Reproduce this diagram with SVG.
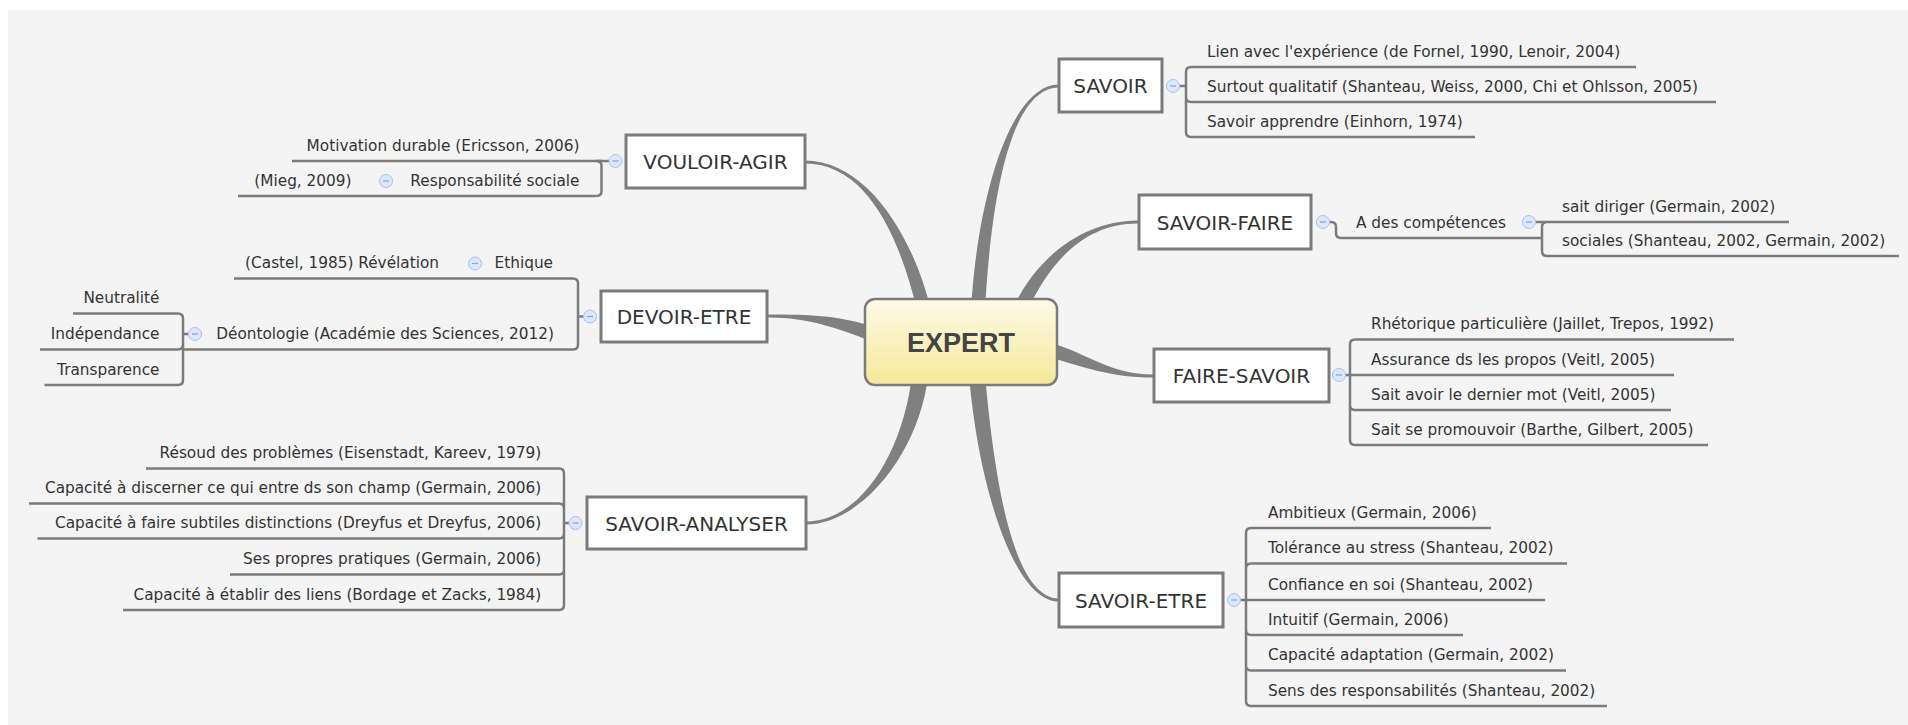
<svg xmlns="http://www.w3.org/2000/svg" width="1908" height="725" viewBox="0 0 1908 725">
<defs>
<linearGradient id="gExp" x1="0" y1="0" x2="0" y2="1">
<stop offset="0" stop-color="#fdfae8"/>
<stop offset="1" stop-color="#f6e898"/>
</linearGradient>
<style>
.conn{fill:#808080;stroke:none}
.br{fill:none;stroke:#7b7b7b;stroke-width:2.5}
.ul{fill:none;stroke:#7b7b7b;stroke-width:2.5}
.box{fill:#ffffff;stroke:#7b7b7b;stroke-width:3}
.lbl{font-family:"DejaVu Sans",sans-serif;font-size:20px;fill:#333333;text-anchor:middle}
.t{font-family:"DejaVu Sans",sans-serif;font-size:15.3px;fill:#333333}
.te{font-family:"DejaVu Sans",sans-serif;font-size:15.3px;fill:#333333;text-anchor:end}
.cc{fill:#dce7fb;stroke:#a8c2ef;stroke-width:1}
.cm{stroke:#86a4da;stroke-width:1.2}
</style>
</defs>
<rect x="0" y="0" width="1908" height="725" fill="#ffffff"/>
<rect x="8" y="10" width="1900" height="715" fill="#f4f4f4"/>

<g id="connectors">
<path class="conn" d="M 917,310 C 899,235 866,163.5 805,163.5 L 805,160.5 C 866,160.5 913,235 931,310 Z"/>
<path class="conn" d="M 971,310 C 977,200 1010,84.5 1059,84.5 L 1059,87.5 C 1010,87.5 991,200 985,310 Z"/>
<path class="conn" d="M 1013.6,307.1 C 1035.6,259.1 1082,220.5 1138,220.5 L 1138,223.5 C 1082,223.5 1048.4,264.9 1026.4,312.9 Z"/>
<path class="conn" d="M 872.6,341.6 C 837.6,328.6 810,317.5 768,317.5 L 768,314.5 C 810,314.5 842.4,315.4 877.4,328.4 Z"/>
<path class="conn" d="M 1051.9,343.3 C 1086.9,353.3 1110,374.5 1153,374.5 L 1153,377.5 C 1110,377.5 1083.1,366.7 1048.1,356.7 Z"/>
<path class="conn" d="M 928,375.85 C 920,450.85 862,524.5 806,524.5 L 806,521.5 C 862,521.5 904,449.15 912,374.15 Z"/>
<path class="conn" d="M 985,374.3 C 995,489.3 1015,598.5 1059,598.5 L 1059,601.5 C 1015,601.5 979,490.7 969,375.7 Z"/>

<path class="br" d="M 1179.5,86 H 1186 M 1186,86 V 72 Q 1186,67 1191,67 M 1186,86 V 97 Q 1186,102 1191,102 M 1186,86 V 132 Q 1186,137 1191,137"/>
<path class="br" d="M 1329.5,222 H 1331 Q 1336,222 1336,227 V 233 Q 1336,238 1341,238"/>
<path class="br" d="M 1535.5,222 H 1547 M 1542,238 V 227 Q 1542,222 1547,222 M 1542,238 V 251 Q 1542,256 1547,256"/>
<path class="br" d="M 1345.5,375 H 1350 M 1350,375 V 344.5 Q 1350,339.5 1355,339.5 M 1350,375 V 405 Q 1350,410 1355,410 M 1350,375 V 440 Q 1350,445 1355,445"/>
<path class="br" d="M 1240.5,600 H 1246 M 1246,600 V 533 Q 1246,528 1251,528 M 1246,600 V 568.5 Q 1246,563.5 1251,563.5 M 1246,600 V 630 Q 1246,635 1251,635 M 1246,600 V 665.5 Q 1246,670.5 1251,670.5 M 1246,600 V 701 Q 1246,706 1251,706"/>
<path class="br" d="M 609,161 H 596.5 Q 601.5,161 601.5,166 V 191 Q 601.5,196 596.5,196"/>
<path class="br" d="M 583.5,316.5 H 578 M 578,316.5 V 283.5 Q 578,278.5 573,278.5 M 578,316.5 V 344.5 Q 578,349.5 573,349.5"/>
<path class="br" d="M 189,334 H 183 M 183,334 V 318.5 Q 183,313.5 178,313.5 M 183,334 V 344.5 Q 183,349.5 178,349.5 M 183,334 V 380 Q 183,385 178,385"/>
<path class="br" d="M 569,523 H 564 M 564,523 V 473.5 Q 564,468.5 559,468.5 M 564,523 V 508.5 Q 564,503.5 559,503.5 M 564,523 V 533.5 Q 564,538.5 559,538.5 M 564,523 V 569.5 Q 564,574.5 559,574.5 M 564,523 V 605 Q 564,610 559,610"/>
</g>

<g id="markers">
<circle class="cc" cx="1173" cy="86" r="6.5"/><path class="cm" d="M 1170,86 H 1176"/>
<circle class="cc" cx="1323" cy="222" r="6.5"/><path class="cm" d="M 1320,222 H 1326"/>
<circle class="cc" cx="1529" cy="222" r="6.5"/><path class="cm" d="M 1526,222 H 1532"/>
<circle class="cc" cx="1339" cy="375" r="6.5"/><path class="cm" d="M 1336,375 H 1342"/>
<circle class="cc" cx="1234" cy="600" r="6.5"/><path class="cm" d="M 1231,600 H 1237"/>
<circle class="cc" cx="615.5" cy="161" r="6.5"/><path class="cm" d="M 612.5,161 H 618.5"/>
<circle class="cc" cx="386" cy="181" r="6.5"/><path class="cm" d="M 383,181 H 389"/>
<circle class="cc" cx="590" cy="316.5" r="6.5"/><path class="cm" d="M 587,316.5 H 593"/>
<circle class="cc" cx="475" cy="263.5" r="6.5"/><path class="cm" d="M 472,263.5 H 478"/>
<circle class="cc" cx="195" cy="334" r="6.5"/><path class="cm" d="M 192,334 H 198"/>
<circle class="cc" cx="575.5" cy="523" r="6.5"/><path class="cm" d="M 572.5,523 H 578.5"/>
</g>

<g id="expert">
<rect x="865" y="299" width="192" height="86" rx="10" ry="10" fill="url(#gExp)" stroke="#7b7b7b" stroke-width="2.5"/>
<text x="961" y="352" font-family="'Liberation Sans',Arial,sans-serif" font-weight="bold" font-size="27" fill="#444444" text-anchor="middle">EXPERT</text>
</g>

<g id="savoir">
<rect class="box" x="1059" y="59" width="103" height="53"/>
<text class="lbl" x="1110.5" y="93">SAVOIR</text>
</g>
<g id="savoir-1"><path class="ul" d="M 1191,67 H 1636"/><text class="t" x="1207" y="56.5">Lien avec l'expérience (de Fornel, 1990, Lenoir, 2004)</text></g>
<g id="savoir-2"><path class="ul" d="M 1191,102 H 1716"/><text class="t" x="1207" y="91.5">Surtout qualitatif (Shanteau, Weiss, 2000, Chi et Ohlsson, 2005)</text></g>
<g id="savoir-3"><path class="ul" d="M 1191,137 H 1475"/><text class="t" x="1207" y="126.5">Savoir apprendre (Einhorn, 1974)</text></g>

<g id="savoir-faire">
<rect class="box" x="1139" y="195" width="172" height="54"/>
<text class="lbl" x="1225" y="229.5">SAVOIR-FAIRE</text>
</g>
<g id="competences"><path class="ul" d="M 1341,238 H 1542"/><text class="t" x="1356" y="228">A des compétences</text></g>
<g id="diriger"><path class="ul" d="M 1547,222 H 1789"/><text class="t" x="1562" y="211.5">sait diriger (Germain, 2002)</text></g>
<g id="sociales"><path class="ul" d="M 1547,256 H 1899"/><text class="t" x="1562" y="245.5">sociales (Shanteau, 2002, Germain, 2002)</text></g>

<g id="faire-savoir">
<rect class="box" x="1154" y="349" width="175" height="53"/>
<text class="lbl" x="1241.5" y="383">FAIRE-SAVOIR</text>
</g>
<g id="fs-1"><path class="ul" d="M 1355,339.5 H 1734"/><text class="t" x="1371" y="329">Rhétorique particulière (Jaillet, Trepos, 1992)</text></g>
<g id="fs-2"><path class="ul" d="M 1350,375 H 1674"/><text class="t" x="1371" y="364.5">Assurance ds les propos (Veitl, 2005)</text></g>
<g id="fs-3"><path class="ul" d="M 1355,410 H 1671"/><text class="t" x="1371" y="399.5">Sait avoir le dernier mot (Veitl, 2005)</text></g>
<g id="fs-4"><path class="ul" d="M 1355,445 H 1708"/><text class="t" x="1371" y="434.5">Sait se promouvoir (Barthe, Gilbert, 2005)</text></g>

<g id="savoir-etre">
<rect class="box" x="1059" y="573" width="164" height="54"/>
<text class="lbl" x="1141" y="607.5">SAVOIR-ETRE</text>
</g>
<g id="se-1"><path class="ul" d="M 1251,528 H 1491"/><text class="t" x="1268" y="517.5">Ambitieux (Germain, 2006)</text></g>
<g id="se-2"><path class="ul" d="M 1251,563.5 H 1567"/><text class="t" x="1268" y="553">Tolérance au stress (Shanteau, 2002)</text></g>
<g id="se-3"><path class="ul" d="M 1246,600 H 1545"/><text class="t" x="1268" y="589.5">Confiance en soi (Shanteau, 2002)</text></g>
<g id="se-4"><path class="ul" d="M 1251,635 H 1463"/><text class="t" x="1268" y="624.5">Intuitif (Germain, 2006)</text></g>
<g id="se-5"><path class="ul" d="M 1251,670.5 H 1566"/><text class="t" x="1268" y="660">Capacité adaptation (Germain, 2002)</text></g>
<g id="se-6"><path class="ul" d="M 1251,706 H 1607"/><text class="t" x="1268" y="695.5">Sens des responsabilités (Shanteau, 2002)</text></g>

<g id="vouloir-agir">
<rect class="box" x="626" y="135" width="179" height="53"/>
<text class="lbl" x="715.5" y="169">VOULOIR-AGIR</text>
</g>
<g id="va-1"><path class="ul" d="M 292,161 H 601.5"/><text class="te" x="579.5" y="150.5">Motivation durable (Ericsson, 2006)</text></g>
<g id="va-2"><path class="ul" d="M 238,196 H 596.5"/><text class="te" x="579.5" y="185.5">Responsabilité sociale</text></g>
<g id="mieg"><text class="te" x="351.5" y="185.5">(Mieg, 2009)</text></g>

<g id="devoir-etre">
<rect class="box" x="601" y="291" width="166" height="51"/>
<text class="lbl" x="684" y="324">DEVOIR-ETRE</text>
</g>
<g id="ethique"><path class="ul" d="M 234,278.5 H 573"/><text class="te" x="553" y="268">Ethique</text></g>
<g id="revelation"><text class="te" x="439" y="268">(Castel, 1985) Révélation</text></g>
<g id="deontologie"><path class="ul" d="M 183,349.5 H 573"/><text class="te" x="554" y="339">Déontologie (Académie des Sciences, 2012)</text></g>
<g id="neutralite"><path class="ul" d="M 73,313.5 H 178"/><text class="te" x="159.5" y="303">Neutralité</text></g>
<g id="independance"><path class="ul" d="M 40,349.5 H 178"/><text class="te" x="159.5" y="339">Indépendance</text></g>
<g id="transparence"><path class="ul" d="M 44.5,385 H 178"/><text class="te" x="159.5" y="374.5">Transparence</text></g>

<g id="savoir-analyser">
<rect class="box" x="587" y="497" width="219" height="52"/>
<text class="lbl" x="696.5" y="530.5">SAVOIR-ANALYSER</text>
</g>
<g id="sa-1"><path class="ul" d="M 146,468.5 H 559"/><text class="te" x="541.3" y="458">Résoud des problèmes (Eisenstadt, Kareev, 1979)</text></g>
<g id="sa-2"><path class="ul" d="M 29,503.5 H 559"/><text class="te" x="541.3" y="493">Capacité à discerner ce qui entre ds son champ (Germain, 2006)</text></g>
<g id="sa-3"><path class="ul" d="M 37.5,538.5 H 559"/><text class="te" x="541.3" y="528">Capacité à faire subtiles distinctions (Dreyfus et Dreyfus, 2006)</text></g>
<g id="sa-4"><path class="ul" d="M 230,574.5 H 559"/><text class="te" x="541.3" y="564">Ses propres pratiques (Germain, 2006)</text></g>
<g id="sa-5"><path class="ul" d="M 123,610 H 559"/><text class="te" x="541.3" y="599.5">Capacité à établir des liens (Bordage et Zacks, 1984)</text></g>
</svg>
